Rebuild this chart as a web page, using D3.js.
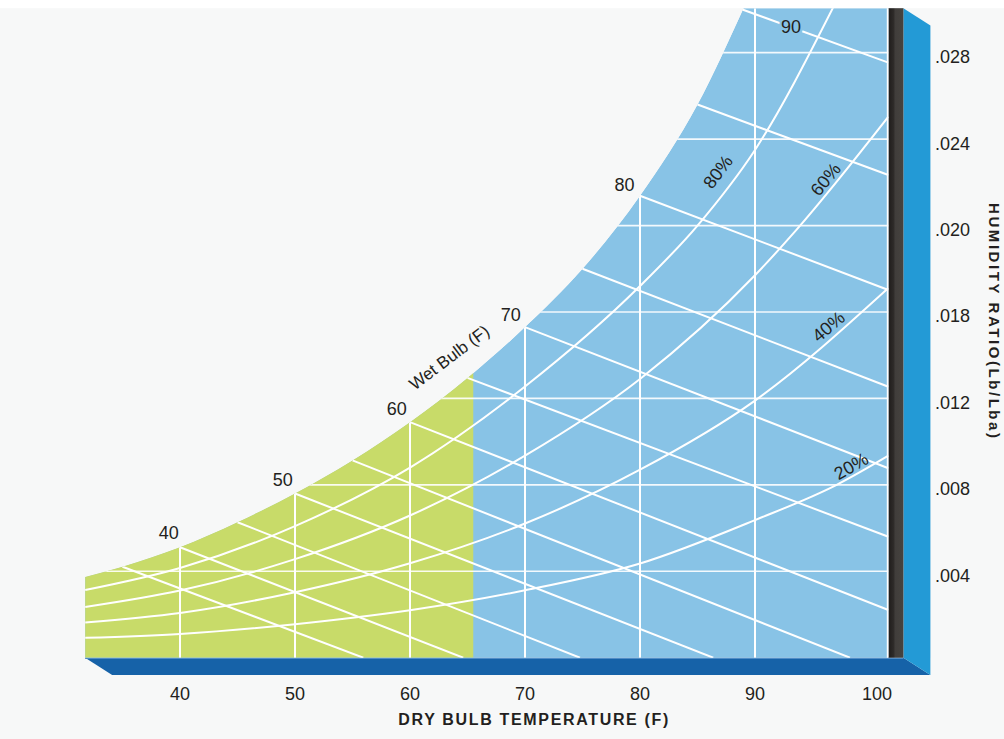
<!DOCTYPE html>
<html><head><meta charset="utf-8">
<script src="https://cdn.jsdelivr.net/npm/d3@7"></script>
<style>
html,body{margin:0;padding:0;background:#f7f8f8;}
svg{display:block;}
text{font-family:"Liberation Sans",Arial,Helvetica,sans-serif;}
</style>
</head><body>
<svg id="chart" width="1004" height="739"></svg>
<script>
// ---------------- data ----------------
const dryBulbTicks = [40, 50, 60, 70, 80, 90, 100];
const dryBulbGrid = [40, 50, 60, 70, 80, 90];
const humidityTicks = [0.004, 0.008, 0.012, 0.016, 0.020, 0.024, 0.028];
const humidityTickLabels = [".004", ".008", ".012", ".018", ".020", ".024", ".028"];
const chartTempRange = [31.75, 101.6];
const chartHumidityMax = 0.03006;
const comfortZoneMaxTemp = 65.5;

// saturation (100% RH) curve  [dry bulb F, humidity ratio]
const saturation = [[31.75,0.00373],[35,0.00421],[40,0.00511],[45,0.00627],[50,0.00760],[55,0.00913],[60,0.01090],[65,0.01295],[70,0.01530],[75,0.01800],[80,0.02138],[85,0.02560],[89,0.03006]];

// relative humidity curves
const rhNames = ["20%", "40%", "60%", "80%"];
const rh20 = [[31.75,0.00092],[40,0.00110],[50,0.00155],[60,0.00220],[70,0.00312],[80,0.00436],[90,0.00637],[97.1,0.00800],[101.6,0.00935]];
const rh40 = [[31.75,0.00163],[40,0.00207],[50,0.00303],[60,0.00437],[70,0.00621],[80,0.00870],[90,0.01190],[101.6,0.01711]];
const rh60 = [[31.75,0.00235],[40,0.00311],[50,0.00456],[60,0.00658],[70,0.00935],[80,0.01290],[90,0.01770],[93.6,0.01980],[101.6,0.02504]];
const rh80 = [[31.75,0.00313],[40,0.00415],[50,0.00609],[60,0.00880],[70,0.01255],[80,0.01720],[85,0.02000],[90,0.02350],[96.8,0.03010]];
const rhLabelTemps = [98.75, 96.9, 96.76, 87.9];

// wet bulb lines
const wetBulbTemps = [35, 40, 45, 50, 55, 60, 65, 70, 75, 80, 85, 90];
const wetBulbStart = [[35,0.00421],[40,0.00511],[45,0.00627],[50,0.00760],[55,0.00913],[60,0.01090],[65,0.01295],[70,0.01530],[75,0.01800],[80,0.02138],[85,0.02560],[88.9,0.03000]];
const wetBulbEnd = [[55.94,0],[64.63,0],[74.78,0],[86.37,0],[98.26,0],[101.6,0.00221],[101.6,0.00560],[101.6,0.00877],[101.6,0.01254],[101.6,0.01702],[101.6,0.02234],[101.6,0.02754]];
const wetBulbLabeled = [40, 50, 60, 70, 80];
const wetBulbInsideLabel = {text: "90", t: 93.13};
const wetBulbTitle = {text: "Wet Bulb (F)", t: 63.4, w: 0.0139, angle: -37};

const xTitle = "DRY BULB TEMPERATURE (F)";
const yTitle = "HUMIDITY RATIO(Lb/Lba)";

// ---------------- drawing ----------------
const svg = d3.select("#chart");
const x = d3.scaleLinear().domain([40, 90]).range([180, 755]);
const y = d3.scaleLinear().domain([0, 0.028]).range([657.7, 52.7]);

const x0 = x(chartTempRange[0]), x1 = x(chartTempRange[1]);
const yb = y(0), yt = y(chartHumidityMax);
const ink = "#231f20";
const blue = "#88c3e6", green = "#c8db69";

// background
svg.append("rect").attr("width", 1004).attr("height", 739).attr("fill", "#f7f8f8");
svg.append("rect").attr("width", 1004).attr("height", yt).attr("fill", "#ffffff");

// 3D base and side
const depthX = 27, depthY = 17.3, barW = 15;
svg.append("path")
  .attr("d", `M${x0},${yb}L${x1 + barW},${yb}L${x1 + barW + depthX},${yb + depthY}L${x0 + depthX},${yb + depthY}Z`)
  .attr("fill", "#1662a8");
svg.append("line").attr("x1", x0).attr("x2", x1 + barW).attr("y1", yb + 0.6).attr("y2", yb + 0.6)
  .attr("stroke", "#4f8cc6").attr("stroke-width", 1.2);
svg.append("path")
  .attr("d", `M${x1 + barW},${yt}L${x1 + barW + depthX},${yt + depthY}L${x1 + barW + depthX},${yb + depthY}L${x1 + barW},${yb}Z`)
  .attr("fill", "#239ad6");
const defs = svg.append("defs");
const grad = defs.append("linearGradient").attr("id", "darkbar").attr("x1", 0).attr("x2", 1).attr("y1", 0).attr("y2", 0);
grad.append("stop").attr("offset", "0%").attr("stop-color", "#1f1c1b");
grad.append("stop").attr("offset", "35%").attr("stop-color", "#2e2b29");
grad.append("stop").attr("offset", "45%").attr("stop-color", "#403d3b");
grad.append("stop").attr("offset", "100%").attr("stop-color", "#46433f");
svg.append("rect").attr("x", x1).attr("y", yt).attr("width", barW).attr("height", yb - yt).attr("fill", "url(#darkbar)");

// chart region bounded by saturation curve
const satLine = d3.line().x(d => x(d[0])).y(d => y(d[1])).curve(d3.curveMonotoneX);
const regionD = satLine(saturation) + `L${x1},${yt}L${x1},${yb}L${x0},${yb}Z`;
defs.append("clipPath").attr("id", "region").append("path").attr("d", regionD);

const plot = svg.append("g").attr("clip-path", "url(#region)");
plot.append("path").attr("d", regionD).attr("fill", blue);
plot.append("rect").attr("x", x0).attr("y", yt).attr("width", x(comfortZoneMaxTemp) - x0).attr("height", yb - yt).attr("fill", green);

// grid
plot.selectAll("line.v").data(dryBulbGrid).join("line")
  .attr("x1", d => x(d)).attr("x2", d => x(d)).attr("y1", yb).attr("y2", yt)
  .attr("stroke", "#fff").attr("stroke-width", 2);
plot.selectAll("line.h").data(humidityTicks).join("line")
  .attr("x1", x0).attr("x2", x1).attr("y1", d => y(d)).attr("y2", d => y(d))
  .attr("stroke", "#fff").attr("stroke-opacity", 0.9).attr("stroke-width", 1.7);

// wet bulb lines
const seg = d3.line().x(d => x(d[0])).y(d => y(d[1]));
plot.selectAll("path.wb").data(wetBulbTemps).join("path")
  .attr("d", (d, i) => seg([wetBulbStart[i], wetBulbEnd[i]]))
  .attr("fill", "none").attr("stroke", "#fff").attr("stroke-width", 2);

// RH curves
const rhCurves = [rh20, rh40, rh60, rh80];
const curveLine = d3.line().x(d => x(d[0])).y(d => y(d[1])).curve(d3.curveMonotoneX);
plot.selectAll("path.rh").data(rhCurves).join("path")
  .attr("d", d => curveLine(d))
  .attr("fill", "none").attr("stroke", "#fff").attr("stroke-width", 2);

// right edge white line
svg.append("line").attr("x1", x1 - 0.8).attr("x2", x1 - 0.8).attr("y1", yt).attr("y2", yb)
  .attr("stroke", "#fff").attr("stroke-width", 1.6);

// helpers
function interp(arr, t) {
  for (let i = 0; i < arr.length - 1; i++) {
    const a = arr[i], b = arr[i + 1];
    if (t >= a[0] && t <= b[0]) return a[1] + (b[1] - a[1]) * (t - a[0]) / (b[0] - a[0]);
  }
  return t < arr[0][0] ? arr[0][1] : arr[arr.length - 1][1];
}
function angleAt(arr, t) {
  const dx = x(t + 0.5) - x(t - 0.5);
  const dy = y(interp(arr, t + 0.5)) - y(interp(arr, t - 0.5));
  return Math.atan2(dy, dx) * 180 / Math.PI;
}

// RH labels
rhCurves.forEach((c, i) => {
  const t = rhLabelTemps[i];
  const px = x(t), py = y(interp(c, t));
  svg.append("text").attr("transform", `translate(${px},${py}) rotate(${angleAt(c, t)})`)
    .attr("dy", i === 3 ? -10 : -3).attr("text-anchor", "middle").attr("font-size", 18).attr("fill", ink)
    .text(rhNames[i]);
});

// wet bulb labels on saturation curve
wetBulbLabeled.forEach(t => {
  const i = wetBulbTemps.indexOf(t);
  const p = wetBulbStart[i];
  const a = angleAt(saturation, t) * Math.PI / 180;
  const nx = Math.sin(a), ny = -Math.cos(a);
  svg.append("text").attr("x", x(p[0]) + 9 * nx + 2).attr("y", y(p[1]) + 9 * ny)
    .attr("text-anchor", "end").attr("font-size", 18).attr("fill", ink).text(t);
});
{
  const i = wetBulbTemps.indexOf(90);
  const s = wetBulbStart[i], e = wetBulbEnd[i];
  const t = wetBulbInsideLabel.t;
  const w = s[1] + (e[1] - s[1]) * (t - s[0]) / (e[0] - s[0]);
  svg.append("text").attr("x", x(t)).attr("y", y(w)).attr("dy", "0.35em")
    .attr("text-anchor", "middle").attr("font-size", 18).attr("fill", ink)
    .attr("stroke", blue).attr("stroke-width", 5).attr("paint-order", "stroke")
    .text(wetBulbInsideLabel.text);
}
svg.append("text")
  .attr("transform", `translate(${x(wetBulbTitle.t)},${y(wetBulbTitle.w)}) rotate(${wetBulbTitle.angle})`)
  .attr("dy", "0.35em").attr("text-anchor", "middle").attr("font-size", 17).attr("fill", ink)
  .text(wetBulbTitle.text);

// x axis labels
svg.selectAll("text.xt").data(dryBulbTicks).join("text")
  .attr("x", d => x(d) + (d === 100 ? 7 : 0)).attr("y", 700)
  .attr("text-anchor", "middle").attr("font-size", 18).attr("fill", ink).text(d => d);
svg.append("text").attr("x", 533.3).attr("y", 725).attr("text-anchor", "middle")
  .attr("font-size", 16).attr("font-weight", "bold").attr("fill", ink)
  .attr("textLength", 270).attr("lengthAdjust", "spacing").text(xTitle);

// y axis labels (right)
svg.selectAll("text.yt").data(humidityTicks).join("text")
  .attr("x", 935).attr("y", d => y(d) + 10.5)
  .attr("font-size", 18).attr("fill", ink).text((d, i) => humidityTickLabels[i]);
svg.append("text").attr("transform", `translate(989,320.5) rotate(90)`)
  .attr("text-anchor", "middle").attr("font-size", 15).attr("font-weight", "bold").attr("fill", ink)
  .attr("textLength", 235).attr("lengthAdjust", "spacing").text(yTitle);
</script>
</body></html>
